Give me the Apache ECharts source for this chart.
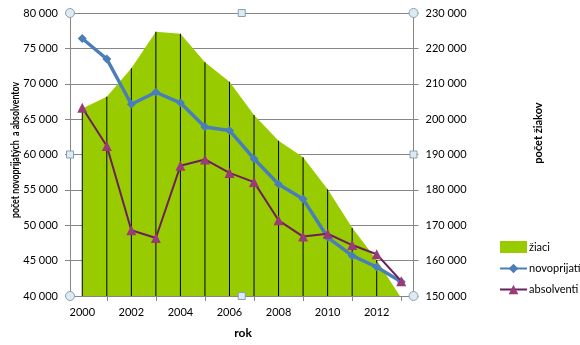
<!DOCTYPE html>
<html>
<head>
<meta charset="utf-8">
<script src="https://cdn.jsdelivr.net/npm/echarts@6/dist/echarts.min.js"></script>
<style>
  html, body { margin: 0; padding: 0; background: #fff; }
  #chart { width: 580px; height: 345px; }
</style>
</head>
<body>
<div id="chart"></div>
<script>
// School years
const years = ['2000', '2001', '2002', '2003', '2004', '2005', '2006', '2007', '2008', '2009', '2010', '2011', '2012', '2013'];
// Newly admitted students (left axis)
const novoprijati = [76400, 73500, 67100, 68800, 67300, 63900, 63400, 59400, 55800, 53700, 48300, 45700, 44100, 42000];
// Graduates (left axis)
const absolventi = [66600, 61200, 49300, 48200, 58400, 59300, 57400, 56100, 50700, 48400, 48800, 47200, 45900, 42100];
// Total pupils (right axis)
const ziaci = [203000, 206300, 214400, 224700, 224100, 216100, 210600, 201200, 193900, 189200, 180200, 169300, 160200, 149400];

const FONT = 'Lato, "Open Sans", sans-serif';
const GRAY = '#868686';
const fmt = v => String(v).replace(/\B(?=(\d{3})+(?!\d))/g, ' ');

const chart = echarts.init(document.getElementById('chart'), null, { renderer: 'canvas' });

// Plot-area frame markers (corner circles, edge-midpoint squares)
const L = 70, R = 413.5, T = 13, B = 296;
const MX = (L + R) / 2, MY = (T + B) / 2;
const handles = [];
[[L, T], [R, T], [L, B], [R, B]].forEach(([x, y]) => handles.push({
  type: 'circle', shape: { cx: x, cy: y, r: 4.5 }, z: 100,
  style: { fill: '#DCEBF3', stroke: '#8C9FB0', lineWidth: 1 }
}));
[[MX, T], [MX, B], [L, MY], [R, MY]].forEach(([x, y]) => handles.push({
  type: 'rect', shape: { x: x - 3.5, y: y - 3.5, width: 7, height: 7 }, z: 100,
  style: { fill: '#DCEBF3', stroke: '#8C9FB0', lineWidth: 1 }
}));

chart.setOption({
  animation: false,
  textStyle: { fontFamily: FONT },
  grid: { left: L, right: 580 - R, top: T, bottom: 345 - B, containLabel: false },
  legend: {
    orient: 'vertical', left: 494, top: 236, itemGap: 10,
    itemWidth: 27, itemHeight: 12,
    textStyle: { fontFamily: FONT, fontSize: 11, color: '#000', padding: [0, 0, 0, -3] },
    data: [
      { name: 'žiaci', icon: 'rect', itemStyle: { color: '#99CC00' } },
      { name: 'novoprijatí' },
      { name: 'absolventi' }
    ]
  },
  xAxis: {
    type: 'category', data: years, boundaryGap: true,
    axisLine: { show: true, lineStyle: { color: GRAY, width: 1 } },
    axisTick: { show: true, alignWithLabel: true, length: 5, interval: i => i % 2 === 1, lineStyle: { color: GRAY } },
    axisLabel: { interval: 1, margin: 11, fontSize: 11, color: '#000', fontFamily: FONT },
    splitLine: { show: false }
  },
  yAxis: [
    {
      type: 'value', min: 40000, max: 80000, interval: 5000,
      axisLine: { show: true, lineStyle: { color: GRAY } },
      axisTick: { show: true, length: 5, lineStyle: { color: GRAY } },
      axisLabel: { formatter: fmt, fontSize: 11, color: '#000', margin: 12, fontFamily: FONT },
      splitLine: { show: true, lineStyle: { color: GRAY, width: 1 } }
    },
    {
      type: 'value', min: 150000, max: 230000, interval: 10000,
      axisLine: { show: true, lineStyle: { color: GRAY } },
      axisTick: { show: true, length: 5, lineStyle: { color: GRAY } },
      axisLabel: { formatter: fmt, fontSize: 11, color: '#000', margin: 12, fontFamily: FONT },
      splitLine: { show: false }
    }
  ],
  series: [
    {
      name: 'žiaci', type: 'line', yAxisIndex: 1, data: ziaci,
      symbol: 'none', lineStyle: { width: 0 }, itemStyle: { color: '#99CC00' },
      areaStyle: { color: '#99CC00', opacity: 1, origin: 'start' },
      z: 1, clip: true
    },
    {
      // vertical drop lines under the area
      name: 'drop', type: 'bar', yAxisIndex: 1, data: ziaci,
      barWidth: 1, itemStyle: { color: '#000' }, z: 2, silent: true
    },
    {
      name: 'novoprijatí', type: 'line', yAxisIndex: 0, data: novoprijati,
      symbol: 'diamond', symbolSize: 9,
      lineStyle: { color: '#4A7EBB', width: 3.5 },
      itemStyle: { color: '#4A7EBB' }, z: 4
    },
    {
      name: 'absolventi', type: 'line', yAxisIndex: 0, data: absolventi,
      symbol: 'triangle', symbolSize: 10,
      lineStyle: { color: '#6B1F5C', width: 2 },
      itemStyle: { color: '#9A3A78' }, z: 5
    }
  ],
  graphic: [
    {
      type: 'text', x: 15, y: 150, rotation: Math.PI / 2, scaleX: 0.8, z: 50,
      style: { text: 'počet novoprijatých  a absolventov', font: 'bold 11px ' + FONT, fill: '#000', align: 'center', verticalAlign: 'middle' }
    },
    {
      type: 'text', x: 538, y: 133, rotation: Math.PI / 2, z: 50,
      style: { text: 'počet žiakov', font: 'bold 11px ' + FONT, fill: '#000', align: 'center', verticalAlign: 'middle' }
    },
    {
      type: 'text', x: 243, y: 333, z: 50,
      style: { text: 'rok', font: 'bold 12px ' + FONT, fill: '#000', align: 'center', verticalAlign: 'middle' }
    }
  ].concat(handles)
});
</script>
</body>
</html>
